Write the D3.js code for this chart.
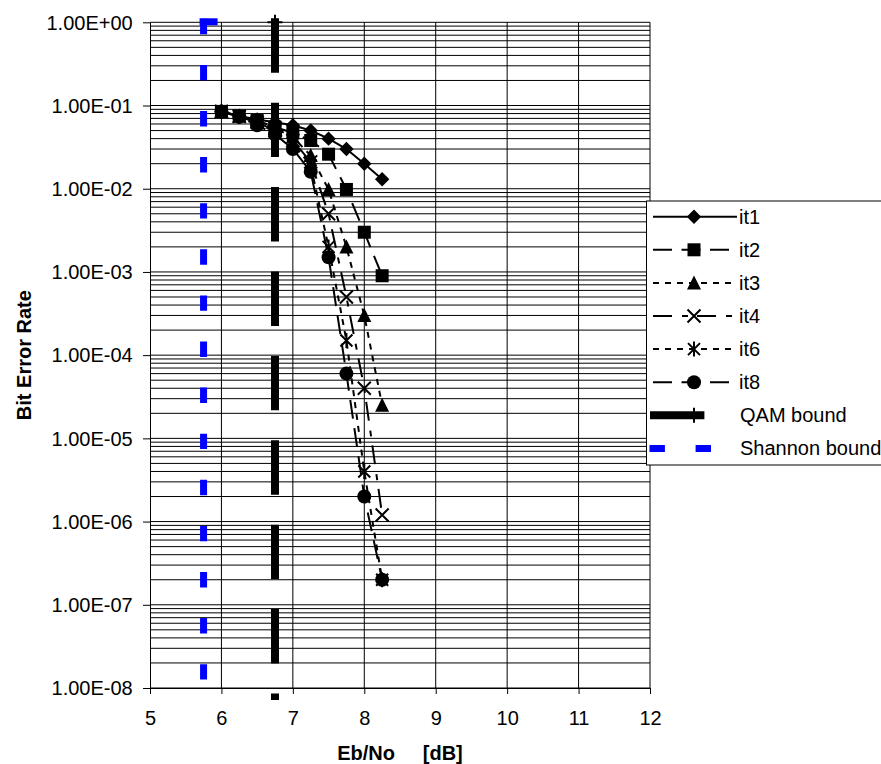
<!DOCTYPE html>
<html>
<head>
<meta charset="utf-8">
<script src="https://cdn.jsdelivr.net/npm/d3@7"></script>
<style>
  html, body { margin: 0; padding: 0; background: #fff; }
  svg { display: block; }
  text { font-family: "Liberation Sans", Arial, sans-serif; fill: #000; }
</style>
</head>
<body>
<svg id="chart" width="881" height="764"></svg>
<script>
// ---------------- data ----------------
const ebno = [6, 6.25, 6.5, 6.75, 7, 7.25, 7.5, 7.75, 8, 8.25];
const it1 = [0.085, 0.075, 0.068, 0.063, 0.058, 0.05, 0.04, 0.03, 0.02, 0.013];
const it2 = [0.085, 0.075, 0.066, 0.055, 0.047, 0.038, 0.026, 0.0098, 0.003, 0.0009];
const it3 = [0.085, 0.075, 0.065, 0.053, 0.042, 0.025, 0.0098, 0.002, 0.0003, 0.000025];
const it4 = [0.085, 0.074, 0.063, 0.05, 0.038, 0.021, 0.005, 0.0005, 0.00004, 0.0000012];
const it6 = [0.085, 0.074, 0.062, 0.048, 0.035, 0.019, 0.002, 0.00015, 0.000004, 0.0000002];
const it8 = [0.084, 0.073, 0.058, 0.045, 0.03, 0.016, 0.0015, 0.00006, 0.000002, 0.0000002];
const qamX = [6.75, 6.75];
const qamY = [1, 1e-9];
const shannonX = [5.75, 5.75];
const shannonY = [1, 1e-9];
const seriesNames = ["it1", "it2", "it3", "it4", "it6", "it8", "QAM bound", "Shannon bound"];
const xTicks = [5, 6, 7, 8, 9, 10, 11, 12];
const yTicks = [1, 1e-1, 1e-2, 1e-3, 1e-4, 1e-5, 1e-6, 1e-7, 1e-8];
const yTickLabels = ["1.00E+00", "1.00E-01", "1.00E-02", "1.00E-03", "1.00E-04",
                     "1.00E-05", "1.00E-06", "1.00E-07", "1.00E-08"];
const xTitle = "Eb/No     [dB]";
const yTitle = "Bit Error Rate";

// ---------------- layout ----------------
const svg = d3.select("#chart");
const pLeft = 150, pRight = 650, pTop = 22.3, pBottom = 688;
const x = d3.scaleLinear().domain([5, 12]).range([pLeft, pRight]);
const y = d3.scaleLog().domain([1, 1e-8]).range([pTop, pBottom]);

// clip (bounds extend slightly beyond the plot bottom, as in the original)
svg.append("defs").append("clipPath").attr("id", "clip")
  .append("rect").attr("x", 0).attr("y", 0).attr("width", pRight + 1).attr("height", pBottom + 12);

// ---------------- grid ----------------
const minor = [];
for (let e = 0; e > -8; e--) {
  for (let k = 1; k <= 9; k++) minor.push(k * Math.pow(10, e - 1));
}
minor.push(1);
const grid = svg.append("g");
grid.selectAll("line.h").data(minor).join("line")
  .attr("x1", pLeft).attr("x2", pRight)
  .attr("y1", d => y(d)).attr("y2", d => y(d))
  .attr("stroke", "#000").attr("stroke-width", 1);
grid.selectAll("line.v").data(xTicks.slice(1)).join("line")
  .attr("x1", d => x(d)).attr("x2", d => x(d))
  .attr("y1", pTop).attr("y2", pBottom)
  .attr("stroke", "#000").attr("stroke-width", 1);

// ---------------- axes ----------------
const xAxis = d3.axisBottom(x).tickValues(xTicks).tickFormat(d3.format("d"))
  .tickSize(6).tickPadding(16.8).tickSizeOuter(0);
const gx = svg.append("g").attr("transform", `translate(0,${pBottom})`).call(xAxis);
gx.select(".domain").attr("stroke", "#000");
gx.selectAll("text").attr("font-size", 20).style("font-family", '"Liberation Sans", Arial, sans-serif');

const yAxis = d3.axisLeft(y).tickValues(yTicks).tickFormat((d, i) => yTickLabels[i])
  .tickSize(7).tickPadding(10.3).tickSizeOuter(0);
const gy = svg.append("g").attr("transform", `translate(${pLeft},0)`).call(yAxis);
gy.select(".domain").attr("stroke", "#000");
gy.selectAll("text").attr("font-size", 20).attr("dy", "0.34em")
  .style("font-family", '"Liberation Sans", Arial, sans-serif');

svg.append("text").attr("x", (pLeft + pRight) / 2).attr("y", 760)
  .attr("text-anchor", "middle").attr("font-size", 20).attr("font-weight", "bold")
  .style("white-space", "pre").text(xTitle);
svg.append("text").attr("transform", `translate(31,${(pTop + pBottom) / 2}) rotate(-90)`)
  .attr("text-anchor", "middle").attr("font-size", 20).attr("font-weight", "bold")
  .text(yTitle);

// ---------------- markers ----------------
function drawMarker(g, type, cx, cy) {
  const t = `translate(${cx},${cy})`;
  if (type === "diamond") g.append("path").attr("d", "M0,-7.2L7.2,0L0,7.2L-7.2,0Z").attr("transform", t).attr("fill", "#000");
  else if (type === "square") g.append("rect").attr("x", cx - 6.5).attr("y", cy - 6.5).attr("width", 13).attr("height", 13).attr("fill", "#000");
  else if (type === "triangle") g.append("path").attr("d", "M0,-7.5L7,6.5L-7,6.5Z").attr("transform", t).attr("fill", "#000");
  else if (type === "x") g.append("path").attr("d", "M-6.5,-6.5L6.5,6.5M-6.5,6.5L6.5,-6.5").attr("transform", t).attr("stroke", "#000").attr("stroke-width", 2).attr("fill", "none");
  else if (type === "star") g.append("path").attr("d", "M-6,-6L6,6M-6,6L6,-6M0,-7.5V7.5").attr("transform", t).attr("stroke", "#000").attr("stroke-width", 2).attr("fill", "none");
  else if (type === "circle") g.append("circle").attr("cx", cx).attr("cy", cy).attr("r", 7).attr("fill", "#000");
  else if (type === "plus") g.append("path").attr("d", "M-7.5,0H7.5M0,-7.5V7.5").attr("transform", t).attr("stroke", "#000").attr("stroke-width", 2).attr("fill", "none");
  else if (type === "bar") g.append("rect").attr("x", cx - 4).attr("y", cy - 4).attr("width", 18).attr("height", 7).attr("fill", "#0000ff");
}

const styles = [
  { name: seriesNames[0], vals: it1, dash: null, marker: "diamond" },
  { name: seriesNames[1], vals: it2, dash: "19,9.5", marker: "square" },
  { name: seriesNames[2], vals: it3, dash: "6,6", marker: "triangle" },
  { name: seriesNames[3], vals: it4, dash: "19,10,6,9", marker: "x" },
  { name: seriesNames[4], vals: it6, dash: "6,6", marker: "star" },
  { name: seriesNames[5], vals: it8, dash: "19,9.5", marker: "circle" }
];

const line = d3.line().x(d => x(d[0])).y(d => y(d[1]));
const plot = svg.append("g").attr("clip-path", "url(#clip)");

styles.forEach(s => {
  const pts = ebno.map((e, i) => [e, s.vals[i]]);
  plot.append("path").attr("d", line(pts)).attr("fill", "none")
    .attr("stroke", "#000").attr("stroke-width", 2)
    .attr("stroke-dasharray", s.dash);
  const mg = plot.append("g");
  pts.forEach(p => drawMarker(mg, s.marker, x(p[0]), y(p[1])));
});

// QAM bound
const qamPts = qamX.map((v, i) => [v, qamY[i]]);
plot.append("path").attr("d", line(qamPts)).attr("fill", "none")
  .attr("stroke", "#000").attr("stroke-width", 8).attr("stroke-linecap", "square")
  .attr("stroke-dasharray", "46.4,38");
drawMarker(plot, "plus", x(qamPts[0][0]), y(qamPts[0][1]));

// Shannon bound
const shPts = shannonX.map((v, i) => [v, shannonY[i]]);
plot.append("path").attr("d", line(shPts)).attr("fill", "none")
  .attr("stroke", "#0000ff").attr("stroke-width", 7).attr("stroke-linecap", "square")
  .attr("stroke-dasharray", "8.4,37.7");
drawMarker(plot, "bar", x(shPts[0][0]), y(shPts[0][1]));

// ---------------- legend ----------------
const lg = svg.append("g");
lg.append("rect").attr("x", 646.5).attr("y", 201).attr("width", 260).attr("height", 264)
  .attr("fill", "#fff").attr("stroke", "#000").attr("stroke-width", 1);
const rowY = i => 216.7 + i * 33.1;
styles.forEach((s, i) => {
  const yy = rowY(i);
  lg.append("line").attr("x1", 653).attr("x2", 737).attr("y1", yy).attr("y2", yy)
    .attr("stroke", "#000").attr("stroke-width", 2).attr("stroke-dasharray", s.dash);
  drawMarker(lg, s.marker, 694, yy);
  lg.append("text").attr("x", 739).attr("y", yy + 7).attr("font-size", 20).text(s.name);
});
{
  const yy = rowY(6);
  lg.append("line").attr("x1", 654).attr("x2", 738).attr("y1", yy).attr("y2", yy)
    .attr("stroke", "#000").attr("stroke-width", 8).attr("stroke-linecap", "square")
    .attr("stroke-dasharray", "46.4,38");
  drawMarker(lg, "plus", 694, yy);
  lg.append("text").attr("x", 740).attr("y", yy + 7).attr("font-size", 20).text(seriesNames[6]);
}
{
  const yy = rowY(7);
  lg.append("line").attr("x1", 653).attr("x2", 737).attr("y1", yy).attr("y2", yy)
    .attr("stroke", "#0000ff").attr("stroke-width", 7).attr("stroke-linecap", "square")
    .attr("stroke-dasharray", "8.4,37.7");
  lg.append("text").attr("x", 740).attr("y", yy + 7).attr("font-size", 20).text(seriesNames[7]);
}
</script>
</body>
</html>
